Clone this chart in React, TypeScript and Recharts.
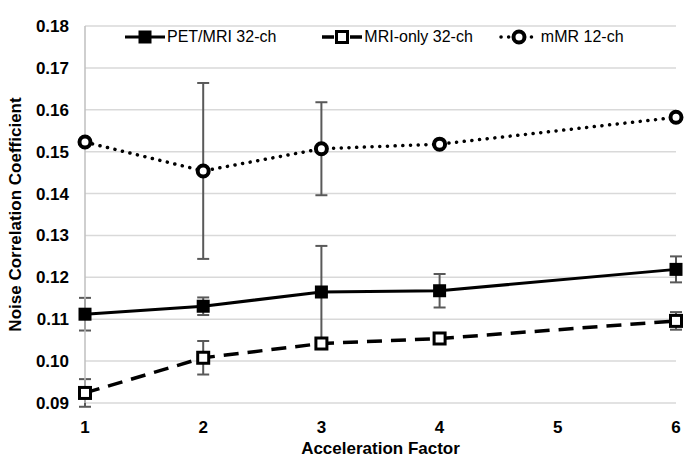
import React from "react"
import { LineChart, Line, XAxis, YAxis, CartesianGrid, ErrorBar, Legend } from "recharts"

const accel = [1, 2, 3, 4, 6]
const petMri = [0.1112, 0.1131, 0.1165, 0.1168, 0.1219]
const petMriErr = [0.0039, 0.0021, 0.0110, 0.0040, 0.0031]
const mriOnly = [0.0924, 0.1008, 0.1042, 0.1054, 0.1096]
const mriOnlyErr = [0.0033, 0.0040, 0.0006, 0.0006, 0.0021]
const mmr = [0.1523, 0.1454, 0.1507, 0.1518, 0.1582]
const mmrErr = [0, 0.0210, 0.0111, 0, 0]

const xTicks = [1, 2, 3, 4, 5, 6]
const yTicks = [0.09, 0.1, 0.11, 0.12, 0.13, 0.14, 0.15, 0.16, 0.17, 0.18]

const seriesNames = ["PET/MRI 32-ch", "MRI-only 32-ch", "mMR 12-ch"]

const data = accel.map((a, i) => ({
  accel: a,
  pet: petMri[i],
  petErr: petMriErr[i],
  mri: mriOnly[i],
  mriErr: mriOnlyErr[i],
  mmr: mmr[i],
  mmrErr: mmrErr[i],
}))

const FONT = "'Liberation Sans', Arial, sans-serif"

const FilledSquare = (props: any) => {
  const { cx, cy, index } = props
  return <rect key={`ps-${index}`} x={cx - 6.5} y={cy - 6.5} width={13} height={13} fill="#000" />
}

const HollowSquare = (props: any) => {
  const { cx, cy, index } = props
  return (
    <rect key={`hs-${index}`} x={cx - 5.5} y={cy - 5.5} width={11} height={11} fill="#fff" stroke="#000" strokeWidth={3} />
  )
}

const RingDot = (props: any) => {
  const { cx, cy, index } = props
  return <circle key={`rd-${index}`} cx={cx} cy={cy} r={5.5} fill="#fff" stroke="#000" strokeWidth={4} />
}

// legend drawn by hand so the icons look like the excel ones
const LegendContent = () => {
  const gaps = [46, 26, 0]
  const item = (i: number) => {
    let icon
    if (i === 0) {
      icon = (
        <svg width={40} height={16}>
          <line x1={0} y1={8} x2={40} y2={8} stroke="#000" strokeWidth={3} />
          <rect x={13.5} y={1.5} width={13} height={13} fill="#000" />
        </svg>
      )
    } else if (i === 1) {
      icon = (
        <svg width={40} height={16}>
          <line x1={0} y1={8} x2={12} y2={8} stroke="#000" strokeWidth={3.5} />
          <line x1={28} y1={8} x2={40} y2={8} stroke="#000" strokeWidth={3.5} />
          <rect x={14.5} y={2.5} width={11} height={11} fill="#fff" stroke="#000" strokeWidth={3} />
        </svg>
      )
    } else {
      icon = (
        <svg width={40} height={16}>
          <line x1={2} y1={8} x2={40} y2={8} stroke="#000" strokeWidth={3.5} strokeDasharray="0.1 7.5" strokeLinecap="round" />
          <circle cx={20} cy={8} r={5.5} fill="#fff" stroke="#000" strokeWidth={4} />
        </svg>
      )
    }
    return (
      <div key={i} style={{ display: "flex", alignItems: "center", marginRight: gaps[i] }}>
        {icon}
        <span style={{ marginLeft: 2, fontSize: 16, fontFamily: FONT, color: "#000" }}>{seriesNames[i]}</span>
      </div>
    )
  }
  return <div style={{ display: "flex", alignItems: "center" }}>{[0, 1, 2].map(item)}</div>
}

export default function App() {
  return (
    <div style={{ width: 685, height: 459, background: "#fff" }}>
      <style>{`body{margin:0}`}</style>
      <LineChart width={685} height={459} data={data} margin={{ top: 8, right: 9, bottom: 0, left: 0 }}>
        <CartesianGrid horizontal vertical={false} stroke="#d9d9d9" strokeWidth={1.5} />
        <XAxis
          dataKey="accel"
          type="number"
          domain={[1, 6]}
          ticks={xTicks}
          axisLine={false}
          tickLine={false}
          height={56}
          tick={{ fill: "#000", fontSize: 17, fontWeight: "bold", fontFamily: FONT }}
          tickMargin={12}
          label={{
            value: "Acceleration Factor",
            position: "insideBottom",
            offset: 5,
            fill: "#000",
            fontSize: 17,
            fontWeight: "bold",
            fontFamily: FONT,
          }}
        />
        <YAxis
          type="number"
          domain={[0.09, 0.18]}
          ticks={yTicks}
          allowDataOverflow
          width={85}
          axisLine={{ stroke: "#bfbfbf", strokeWidth: 1.5 }}
          tickLine={false}
          tickFormatter={(v: number) => v.toFixed(2)}
          tick={{ fill: "#000", fontSize: 17, fontWeight: "bold", fontFamily: FONT }}
          tickMargin={10}
          label={{
            value: "Noise Correlation Coefficient",
            angle: -90,
            position: "insideLeft",
            offset: 15,
            style: { textAnchor: "middle" },
            fill: "#000",
            fontSize: 17,
            fontWeight: "bold",
            fontFamily: FONT,
          }}
        />
        <Legend
          verticalAlign="top"
          align="left"
          content={<LegendContent />}
          wrapperStyle={{ top: 28, left: 125, width: 560 }}
        />
        <Line
          dataKey="pet"
          name={seriesNames[0]}
          stroke="#000"
          strokeWidth={3}
          dot={FilledSquare}
          isAnimationActive={false}
        >
          <ErrorBar dataKey="petErr" direction="y" width={6} stroke="#595959" strokeWidth={2} />
        </Line>
        <Line
          dataKey="mri"
          name={seriesNames[1]}
          stroke="#000"
          strokeWidth={3.5}
          strokeDasharray="15 9"
          dot={HollowSquare}
          isAnimationActive={false}
        >
          <ErrorBar dataKey="mriErr" direction="y" width={6} stroke="#595959" strokeWidth={2} />
        </Line>
        <Line
          dataKey="mmr"
          name={seriesNames[2]}
          stroke="#000"
          strokeWidth={3.5}
          strokeDasharray="0.1 7.6"
          strokeLinecap="round"
          dot={RingDot}
          isAnimationActive={false}
        >
          <ErrorBar dataKey="mmrErr" direction="y" width={6} stroke="#595959" strokeWidth={2} />
        </Line>
      </LineChart>
    </div>
  )
}
